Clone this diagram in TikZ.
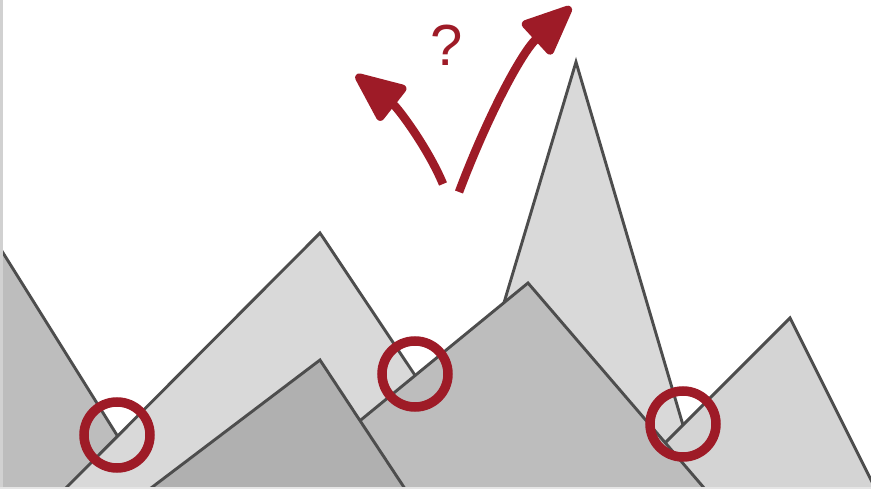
\documentclass[tikz,border=0pt]{standalone}
\usepackage{fontspec}
\newfontfamily\qfont{Liberation Sans}
\usetikzlibrary{arrows.meta}

\definecolor{ridge}{HTML}{4D4D4D}
\definecolor{alarm}{HTML}{9E1B27}

\begin{document}
\begin{tikzpicture}[x=1pt, y=-1pt,
  peak/.style={draw=ridge, line width=2.9pt, line join=miter},
  pale/.style={peak, fill=black!15},
  mid/.style={peak, fill=black!26},
  dark/.style={peak, fill=black!31},
  spot/.style={draw=alarm, line width=9.5pt},
  jump/.style={draw=alarm, line width=8.5pt,
               -{Triangle[length=56pt, width=46pt, round]}},
]
  \useasboundingbox (0,0) rectangle (871,489);
  \clip (0,0) rectangle (871,489);
  \fill[white] (0,0) rectangle (871,489);

  % Mountains, back to front
  \draw[mid]  (-20,216) -- (160,504) -- (-20,504) -- cycle;
  \draw[pale] (320,233) -- (505,510) -- (44,510) -- cycle;
  \draw[pale] (576,62) -- (708,510) -- (442,510) -- cycle;
  \draw[pale, fill=black!17] (790,318) -- (886,510) -- (598,510) -- cycle;
  \draw[mid]  (528,283) -- (723,510) -- (251,510) -- cycle;
  \draw[dark] (320,360) -- (419,510) -- (122,510) -- cycle;

  % Frame strips
  \fill[black!18] (0,0) rectangle (3,489);
  \fill[black!10] (0,487) rectangle (871,489);

  % Crossing points
  \coordinate (c1) at (117,435);
  \coordinate (c2) at (415,374);
  \coordinate (c3) at (683,424);
  \foreach \c in {c1,c2,c3}
    \draw[spot] (\c) circle (33pt);

  % Two possible ways up
  \coordinate (t1) at (443,184);
  \coordinate (h1) at (356,75);
  \coordinate (t2) at (459,192);
  \coordinate (h2) at (571,7);
  \draw[jump] (t1) .. controls (428,148) and (398,108) .. (h1);
  \draw[jump] (t2) .. controls (488,115) and (522,52) .. (h2);

  \node[text=alarm, font=\qfont\fontsize{58}{60}\selectfont] (ask) at (447,45) {?};
\end{tikzpicture}
\end{document}
